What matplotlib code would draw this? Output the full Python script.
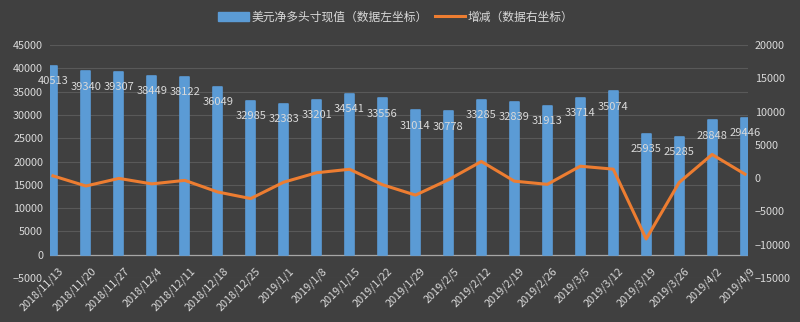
import numpy as np
import matplotlib.pyplot as plt
from matplotlib.patches import Patch
from matplotlib.lines import Line2D

plt.rcParams['font.family'] = ['Noto Sans CJK SC', 'DejaVu Sans']

dates = ["2018/11/13", "2018/11/20", "2018/11/27", "2018/12/4", "2018/12/11",
         "2018/12/18", "2018/12/25", "2019/1/1", "2019/1/8", "2019/1/15",
         "2019/1/22", "2019/1/29", "2019/2/5", "2019/2/12", "2019/2/19",
         "2019/2/26", "2019/3/5", "2019/3/12", "2019/3/19", "2019/3/26",
         "2019/4/2", "2019/4/9"]
net_long = [40513, 39340, 39307, 38449, 38122, 36049, 32985, 32383, 33201, 34541,
            33556, 31014, 30778, 33285, 32839, 31913, 33714, 35074, 25935, 25285,
            28848, 29446]
change = [350, -1173, -33, -858, -327, -2073, -3064, -602, 818, 1340,
          -985, -2542, -236, 2507, -446, -926, 1801, 1360, -9139, -650,
          3563, 598]

bg = "#404040"
txt = "#d9d9d9"
blue = "#5b9bd5"
orange = "#ed7d31"

fig = plt.figure(figsize=(8, 3.22), dpi=100, facecolor=bg)
ax = fig.add_axes([0.0625, 0.1366, 0.8725, 0.7234], facecolor=bg)
x = np.arange(len(dates))

ax.set_ylim(-5000, 45000)
ax.set_yticks(np.arange(-5000, 45001, 5000))
ax.set_xlim(-0.09, len(dates) - 1 + 0.09)
ax.grid(axis="y", color="#595959", linewidth=0.8)
ax.set_axisbelow(True)
ax.axhline(0, color="#a6a6a6", linewidth=0.9, zorder=1)

ax.bar(x, net_long, width=0.27, color=blue, edgecolor=blue, linewidth=1.2,
       joinstyle="round", zorder=2)
for xi, v in zip(x, net_long):
    ax.annotate(str(v), xy=(xi, v), xytext=(0, -11), textcoords="offset points",
                ha="center", va="center", color=txt, fontsize=8, zorder=5)

# category labels sit on the zero line like in excel
ax.set_xticks([])
for xi, d in zip(x, dates):
    ax.annotate(d, xy=(xi, 0), xytext=(3.5, -8), textcoords="offset points",
                rotation=45, rotation_mode="anchor", ha="right", va="top",
                color=txt, fontsize=7.8, annotation_clip=False)

ax2 = ax.twinx()
ax2.set_ylim(-15000, 20000)
ax2.set_yticks(np.arange(-15000, 20001, 5000))
ax2.plot(x, change, color=orange, linewidth=2.2, solid_joinstyle="round", zorder=3)

for a in (ax, ax2):
    for s in a.spines.values():
        s.set_visible(False)
    a.tick_params(length=0, colors=txt, labelsize=7.8)
ax.tick_params(axis="y", pad=5)
ax2.tick_params(axis="y", pad=5)
for lab in ax2.get_yticklabels():
    lab.set_horizontalalignment("left")

handles = [Patch(facecolor=blue, edgecolor=blue),
           Line2D([0], [0], color=orange, linewidth=2.2)]
fig.legend(handles, ["美元净多头寸现值（数据左坐标）", "增减（数据右坐标）"],
           loc="center", bbox_to_anchor=(0.495, 0.947), ncol=2, frameon=False,
           fontsize=8.5, labelcolor=txt, handlelength=2.6, handletextpad=0.2,
           columnspacing=0.6)

fig.savefig("out.png", dpi=100, facecolor=bg)
